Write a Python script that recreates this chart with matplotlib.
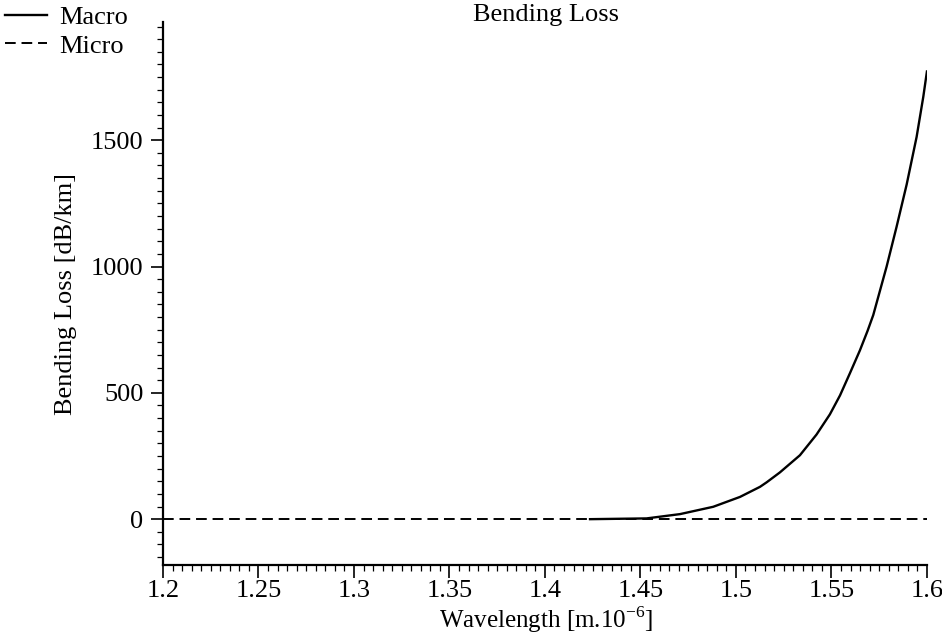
import numpy as np
import matplotlib.pyplot as plt
from matplotlib.ticker import MultipleLocator

# Macrobending loss curve (dB/km) vs wavelength (um)
wl_macro = [1.4236, 1.4532, 1.4707, 1.4881, 1.5021, 1.5126, 1.5161, 1.5230,
            1.5335, 1.5422, 1.5492, 1.5545, 1.5597, 1.5649, 1.5689, 1.5719,
            1.5789, 1.5841, 1.5894, 1.5946, 1.5981, 1.6000]
loss_macro = [0, 3, 20, 49, 88, 128, 146, 185,
              253, 335, 415, 490, 578, 668, 745, 808,
              1000, 1157, 1325, 1513, 1672, 1772]

# Microbending loss is flat at zero over the whole range
wl_micro = [1.2, 1.6]
loss_micro = [0, 0]

xtick_vals = [1.2, 1.25, 1.3, 1.35, 1.4, 1.45, 1.5, 1.55, 1.6]
xtick_text = ['1.2', '1.25', '1.3', '1.35', '1.4', '1.45', '1.5', '1.55', '1.6']

plt.rcParams['font.family'] = ['Liberation Serif', 'DejaVu Serif']
plt.rcParams['mathtext.fontset'] = 'custom'
plt.rcParams['mathtext.rm'] = 'Liberation Serif'

fig = plt.figure(figsize=(9.42, 6.35), dpi=100)
ax = fig.add_axes([0.173, 0.110, 0.811, 0.855])

l1, = ax.plot(wl_macro, loss_macro, color='black', lw=1.7, label='Macro')
l2, = ax.plot(wl_micro, loss_micro, color='black', lw=1.4, ls=(0, (5.5, 3)),
              label='Micro')

ax.set_xlim(1.2, 1.6)
ax.set_ylim(-182, 1967)

for s in ['top', 'right']:
    ax.spines[s].set_visible(False)
for s in ['left', 'bottom']:
    ax.spines[s].set_linewidth(1.6)

ax.set_xticks(xtick_vals)
ax.set_xticklabels(xtick_text)
ax.xaxis.set_minor_locator(MultipleLocator(0.005))
ax.yaxis.set_major_locator(MultipleLocator(500))
ax.yaxis.set_minor_locator(MultipleLocator(50))
ax.tick_params(which='major', length=9, width=1.2, labelsize=19, direction='out')
ax.tick_params(axis='x', which='major', pad=2)
ax.tick_params(axis='y', which='major', pad=5)
ax.tick_params(which='minor', length=4, width=0.9, direction='out')

ax.set_ylabel('Bending Loss [dB/km]', fontsize=19, labelpad=10)
# x label with a small raised exponent
fig.text(0.5796, 1 - 628 / 635, 'Wavelength [m.10$^{\\mathrm{-6}}$]',
         fontsize=18, ha='center', va='baseline')
fig.text(0.5796, 1 - 21 / 635, 'Bending Loss', fontsize=19,
         ha='center', va='baseline')

fig.legend(handles=[l1, l2], loc='upper left', bbox_to_anchor=(-0.006, 1.008),
           frameon=False, fontsize=19, handlelength=1.6, handletextpad=0.45,
           labelspacing=0.2, borderaxespad=0)

fig.savefig('out.png', dpi=100)
